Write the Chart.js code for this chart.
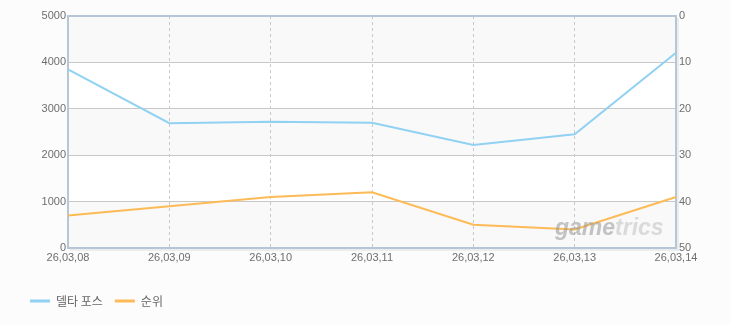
<!DOCTYPE html>
<html><head><meta charset="utf-8">
<script src="https://cdn.jsdelivr.net/npm/chart.js@4"></script>
<style>html,body{margin:0;padding:0;background:#fcfcfc;}#wrap{width:730px;height:325px;}</style>
</head><body><div id="wrap"><canvas id="c" width="730" height="325"></canvas></div>
<script>
const categories = ['26,03,08','26,03,09','26,03,10','26,03,11','26,03,12','26,03,13','26,03,14'];
const deltaForce = [3850, 2690, 2720, 2700, 2220, 2450, 4210];
const rank = [43, 41, 39, 38, 45, 46, 39];
const leftTicks = [0, 1000, 2000, 3000, 4000, 5000];
const rightTicks = [0, 10, 20, 30, 40, 50];
const seriesNames = ['델타 포스', '순위'];

const tickFont = {family: '"Liberation Sans", Arial, sans-serif', size: 11};
const tickColor = '#6e6e6e';

const bands = {
  id: 'bands',
  beforeDraw(chart) {
    const {ctx, chartArea: a, scales} = chart;
    if (chart.legend && !chart.legend._shifted) {
      chart.legend.left += 18; chart.legend.right += 18; chart.legend._shifted = true;
    }
    ctx.save();
    ctx.fillStyle = '#fcfcfc';
    ctx.fillRect(0, 0, chart.width, chart.height);
    const y = scales.y;
    for (let i = 0; i < leftTicks.length - 1; i++) {
      const top = y.getPixelForValue(leftTicks[i + 1]);
      const bot = y.getPixelForValue(leftTicks[i]);
      ctx.fillStyle = (i % 2 === 0) ? '#f9f9f9' : '#ffffff';
      ctx.fillRect(a.left, top, a.right - a.left, bot - top);
    }
    ctx.restore();
  },
  beforeDatasetsDraw(chart) {
    const {ctx, chartArea: a} = chart;
    ctx.save();
    ctx.strokeStyle = 'rgba(0,0,0,0.06)';
    ctx.lineWidth = 2;
    ctx.beginPath();
    ctx.moveTo(a.left + 2, a.bottom + 2);
    ctx.lineTo(a.right + 2, a.bottom + 2);
    ctx.lineTo(a.right + 2, a.top + 2);
    ctx.stroke();
    ctx.strokeStyle = '#b5c6d6';
    ctx.lineWidth = 2;
    ctx.strokeRect(a.left, a.top, a.right - a.left, a.bottom - a.top);
    ctx.restore();
  },
  afterDatasetsDraw(chart) {
    const {ctx} = chart;
    ctx.save();
    ctx.font = 'italic bold 23px "Liberation Sans", Arial, sans-serif';
    ctx.textBaseline = 'alphabetic';
    ctx.fillStyle = 'rgba(150,150,150,0.55)';
    ctx.fillText('game', 555, 235);
    const w = ctx.measureText('game').width;
    ctx.fillStyle = 'rgba(180,180,180,0.45)';
    ctx.fillText('trics', 555 + w, 235);
    ctx.restore();
  }
};

new Chart(document.getElementById('c'), {
  type: 'line',
  data: {
    labels: categories,
    datasets: [
      {label: seriesNames[0], data: deltaForce, yAxisID: 'y', borderColor: '#91d1f2', backgroundColor: '#91d1f2', borderWidth: 2, pointRadius: 0, tension: 0, fill: false},
      {label: seriesNames[1], data: rank, yAxisID: 'y1', borderColor: '#fdbb57', backgroundColor: '#fdbb57', borderWidth: 2, pointRadius: 0, tension: 0, fill: false}
    ]
  },
  options: {
    responsive: false,
    animation: false,
    devicePixelRatio: 1,
    layout: {padding: {top: 16, left: 0, right: 0, bottom: 8}},
    plugins: {
      tooltip: {enabled: false},
      legend: {
        position: 'bottom',
        align: 'start',
        labels: {
          font: {family: '"Noto Sans CJK KR", sans-serif', size: 12},
          color: '#666',
          boxWidth: 20,
          boxHeight: 3,
          padding: 12,
          generateLabels(chart) {
            return chart.data.datasets.map((d, i) => ({text: d.label, fillStyle: d.borderColor, strokeStyle: d.borderColor, lineWidth: 0, datasetIndex: i, fontColor: '#666'}));
          }
        }
      }
    },
    scales: {
      x: {
        offset: false,
        grid: {color: '#c8c8c8', drawTicks: false},
        border: {display: false, dash: [3, 3]},
        ticks: {font: tickFont, color: tickColor, padding: 3, maxRotation: 0, autoSkip: false},
        afterFit(s) { s.height = 35; }
      },
      y: {
        position: 'left', min: 0, max: 5000,
        afterBuildTicks(s) { s.ticks = leftTicks.map(v => ({value: v})); },
        grid: {color: '#c8c8c8', drawTicks: false},
        border: {display: false},
        ticks: {font: tickFont, color: tickColor, padding: 2, callback: v => String(v)},
        afterFit(s) { s.width = 68; }
      },
      y1: {
        position: 'right', min: 0, max: 50, reverse: true,
        afterBuildTicks(s) { s.ticks = rightTicks.map(v => ({value: v})); },
        grid: {display: false, drawTicks: false},
        border: {display: false},
        ticks: {font: tickFont, color: tickColor, padding: 3, callback: v => String(v)},
        afterFit(s) { s.width = 54; }
      }
    }
  },
  plugins: [bands]
});
</script></body></html>
